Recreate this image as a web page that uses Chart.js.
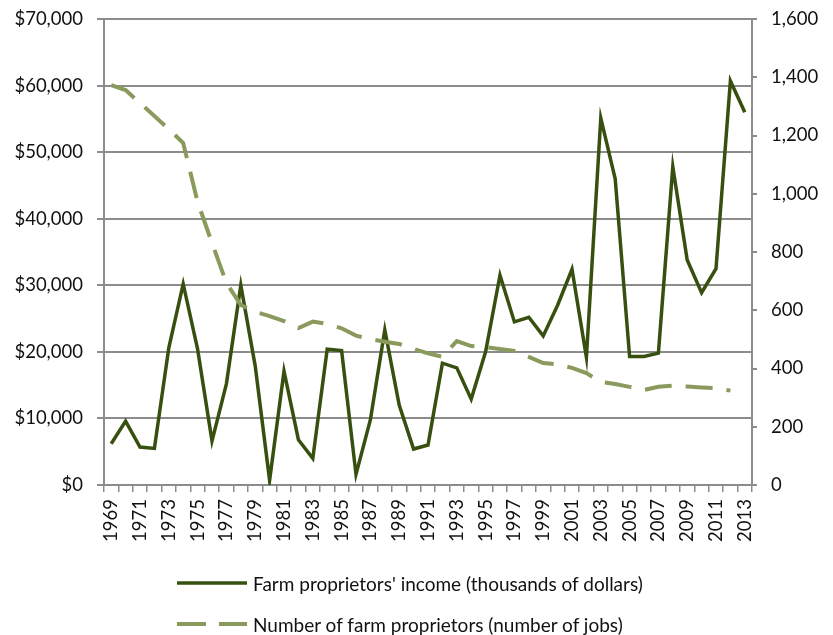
<!DOCTYPE html>
<html>
<head>
<meta charset="utf-8">
<title>Farm proprietors</title>
<script src="https://cdn.jsdelivr.net/npm/chart.js@4.4.1/dist/chart.umd.min.js"></script>
<style>
  body { margin: 0; background: #fff; }
  #wrap { position: relative; width: 833px; height: 635px; overflow: hidden; }
  #legend { position: absolute; left: 177px; top: 569px; font: 19px Lato, sans-serif; color: #111; }
  #legend .item { display: flex; align-items: center; height: 28px; margin-bottom: 13px; }
  #legend svg { margin-right: 6px; }
</style>
</head>
<body>
<div id="wrap">
  <canvas id="farmChart" width="833" height="635"></canvas>
  <div id="legend"></div>
</div>
<script>
const years = [1969, 1970, 1971, 1972, 1973, 1974, 1975, 1976, 1977, 1978, 1979, 1980,
  1981, 1982, 1983, 1984, 1985, 1986, 1987, 1988, 1989, 1990, 1991, 1992, 1993, 1994,
  1995, 1996, 1997, 1998, 1999, 2000, 2001, 2002, 2003, 2004, 2005, 2006, 2007, 2008,
  2009, 2010, 2011, 2012, 2013];

// thousands of dollars
const income = [6200, 9600, 5700, 5500, 20600, 30200, 20400, 6600, 15200, 30000, 17900, 700,
  17100, 6800, 4000, 20400, 20200, 1600, 9800, 23300, 12000, 5400, 6000, 18300, 17600, 12900,
  20000, 31500, 24500, 25200, 22400, 27000, 32400, 19200, 55100, 46000, 19300, 19300, 19800, 47800,
  33800, 28900, 32500, 60700, 56000];

// number of jobs (no 2013 figure)
const proprietors = [1373, 1356, 1311, 1267, 1222, 1174, 972, 831, 694, 618, 595, 580,
  563, 539, 561, 553, 538, 513, 501, 492, 484, 467, 452, 440, 494, 477,
  473, 467, 460, 440, 419, 414, 402, 384, 354, 347, 337, 326, 337, 341,
  338, 335, 332, 324, null];

const incomeLabel = "Farm proprietors' income (thousands of dollars)";
const proprietorsLabel = 'Number of farm proprietors (number of jobs)';

const axisGray = '#8c8c8c';
const tickFont = { family: 'Lato, sans-serif', size: 18.5 };

// fixed axis box: keeps the plot area in the same place whatever the label sizes
const fixVertical = (width) => (scale) => {
  scale.width = width;
  scale.paddingTop = 0;
  scale.paddingBottom = 0;
};

const ctx = document.getElementById('farmChart').getContext('2d');
const chart = new Chart(ctx, {
  type: 'line',
  data: {
    labels: years,
    datasets: [{
      label: incomeLabel,
      data: income,
      yAxisID: 'y',
      borderColor: '#38500f',
      borderWidth: 3.5,
      pointRadius: 0,
      tension: 0,
      order: 1
    }, {
      label: proprietorsLabel,
      data: proprietors,
      yAxisID: 'y1',
      borderColor: '#8a9a5c',
      borderWidth: 4,
      borderDash: [27, 14],
      pointRadius: 0,
      tension: 0,
      order: 0
    }]
  },
  options: {
    responsive: false,
    animation: false,
    layout: { padding: { top: 19, left: 0, right: 0, bottom: 0 } },
    plugins: {
      legend: { display: false },
      tooltip: { enabled: false }
    },
    scales: {
      x: {
        offset: true,
        grid: { drawOnChartArea: false, offset: true, tickLength: 7, color: axisGray, lineWidth: 1.5 },
        border: { color: axisGray, width: 2 },
        ticks: {
          autoSkip: false,
          minRotation: 90,
          maxRotation: 90,
          padding: 7,
          color: '#111',
          font: tickFont,
          callback: (v, i) => (i % 2 === 0 ? String(years[i]) : '')
        },
        afterFit: (scale) => {
          scale.height = 150;
          scale.paddingLeft = 0;
          scale.paddingRight = 0;
        }
      },
      y: {
        position: 'left',
        min: 0,
        max: 70000,
        grid: { color: axisGray, lineWidth: 2, tickLength: 7 },
        border: { color: axisGray, width: 2 },
        ticks: {
          stepSize: 10000,
          padding: 14,
          color: '#111',
          font: tickFont,
          callback: (v) => '$' + v.toLocaleString('en-US')
        },
        afterFit: fixVertical(104)
      },
      y1: {
        position: 'right',
        min: 0,
        max: 1600,
        grid: { drawOnChartArea: false, color: axisGray, lineWidth: 2, tickLength: 5 },
        border: { color: axisGray, width: 2 },
        ticks: {
          stepSize: 200,
          padding: 14,
          color: '#111',
          font: tickFont,
          callback: (v) => v.toLocaleString('en-US')
        },
        afterFit: fixVertical(81)
      }
    }
  }
});

// legend under the chart, two rows, built from the datasets
const legendBox = document.getElementById('legend');
legendBox.innerHTML = chart.data.datasets.map(ds => `
  <div class="item">
    <svg width="70" height="6">
      <line x1="0" y1="3" x2="70" y2="3" stroke="${ds.borderColor}" stroke-width="${ds.borderWidth}"
        ${ds.borderDash ? 'stroke-dasharray="29 13"' : ''}/>
    </svg>
    <span>${ds.label}</span>
  </div>
`).join('');
</script>
</body>
</html>
